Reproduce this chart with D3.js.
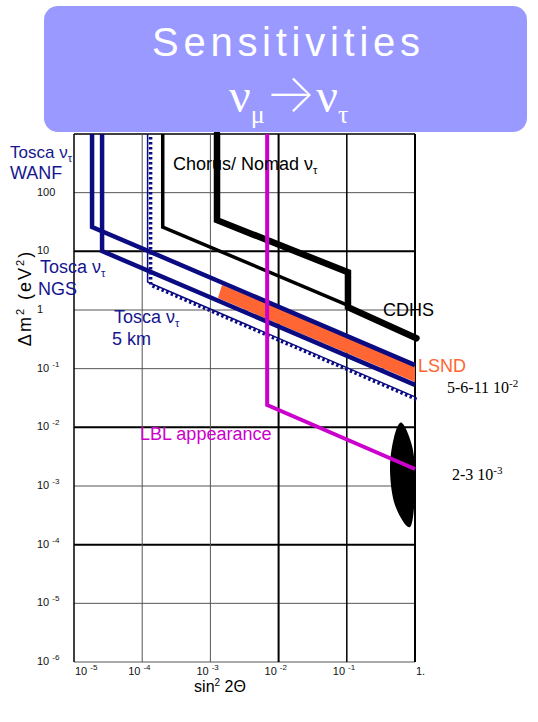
<!DOCTYPE html>
<html>
<head>
<meta charset="utf-8">
<script src="https://cdnjs.cloudflare.com/ajax/libs/d3/7.8.5/d3.min.js"></script>
<style>
  body { margin: 0; background: #fff; }
  svg { display: block; }
</style>
</head>
<body>
<svg id="chart" width="538" height="722"></svg>
<script>
// decades on each axis
const xTicks = [1e-5, 1e-4, 1e-3, 1e-2, 1e-1, 1];
const xTickLabels = [["10", "-5"], ["10", "-4"], ["10", "-3"], ["10", "-2"], ["10", "-1"], ["1.", ""]];
const yTicks = [1e-6, 1e-5, 1e-4, 1e-3, 1e-2, 1e-1, 1, 10, 100, 1000];
const yTickLabels = [["10", "-6"], ["10", "-5"], ["10", "-4"], ["10", "-3"], ["10", "-2"], ["10", "-1"], ["1", ""], ["10", ""], ["100", ""], ["", ""]];

// exclusion curves, [sin^2 2theta, dm^2]
const toscaWanf = [[1.84e-5, 1000], [1.84e-5, 26], [1, 0.115]];
const toscaNgs = [[2.58e-5, 1000], [2.58e-5, 10.1], [1, 0.053]];
const tosca5km = [[1.2e-4, 1000], [1.2e-4, 3.0], [1, 0.033]];
const chorusNomad = [[2.0e-4, 1000], [2.0e-4, 26], [0.104, 1.2]];
const cdhs = [[1.25e-3, 1000], [1.25e-3, 34], [0.104, 4.4], [0.104, 1.12], [1.05, 0.33]];
const lblAppearance = [[6.8e-3, 1000], [6.8e-3, 0.024], [1, 1.95e-3]];
const lsnd = [[1.48e-3, 2.67], [1, 0.125], [1, 0.059], [1.29e-3, 1.6]];
const atmBlob = [[0.644, 0.0119], [0.935, 4.1e-3], [1.0, 8.5e-4], [0.845, 2.0e-4],
                 [0.51, 4.7e-4], [0.43, 1.9e-3], [0.49, 6.6e-3]];

const svg = d3.select("#chart");
const x = d3.scaleLog().domain([1e-5, 1]).range([74, 415]);
const y = d3.scaleLog().domain([1e-6, 1e3]).range([662, 134]);
const line = d3.line().x(d => x(d[0])).y(d => y(d[1]));

const NAVY = "#0b0b82", NAVY_TXT = "#16168f", MAGENTA = "#cc00cc", ORANGE = "#ff6633";

// grid
const heavyY = new Set([10, 1e-2, 1e-4]);
svg.append("g").selectAll("line")
  .data(yTicks)
  .enter().append("line")
  .attr("x1", x(1e-5)).attr("x2", x(1))
  .attr("y1", d => y(d)).attr("y2", d => y(d))
  .attr("stroke", d => heavyY.has(d) || d === 1000 ? "#000" : "#555")
  .attr("stroke-width", d => heavyY.has(d) ? 2 : (d === 1000 ? 1.5 : 1));

const heavyX = { 1e-2: 2, 1e-1: 1.5, 1: 2, 1e-5: 1.5 };
svg.append("g").selectAll("line")
  .data(xTicks)
  .enter().append("line")
  .attr("x1", d => x(d)).attr("x2", d => x(d))
  .attr("y1", y(1e3)).attr("y2", y(1e-6))
  .attr("stroke", d => heavyX[d] ? "#000" : "#555")
  .attr("stroke-width", d => heavyX[d] || 1);

// tick labels
const tickFont = "'Liberation Sans', Arial, sans-serif";
const yl = svg.append("g").selectAll("text")
  .data(yTicks.map((d, i) => [d, yTickLabels[i]]))
  .enter().append("text")
  .attr("x", 37)
  .attr("y", d => y(d[0]) + 3)
  .attr("font-family", tickFont)
  .attr("font-size", 11)
  .attr("fill", "#111");
yl.append("tspan").text(d => d[1][0]);
yl.append("tspan").attr("dx", 3).attr("dy", -5).attr("font-size", 8).text(d => d[1][1]);

const xl = svg.append("g").selectAll("text")
  .data(xTicks.map((d, i) => [d, xTickLabels[i]]))
  .enter().append("text")
  .attr("x", (d, i) => i === 0 || i === xTicks.length - 1 ? x(d[0]) + 1 : x(d[0]) - 14)
  .attr("y", 675)
  .attr("font-family", tickFont)
  .attr("font-size", 11)
  .attr("fill", "#111");
xl.append("tspan").text(d => d[1][0]);
xl.append("tspan").attr("dx", 3).attr("dy", -5).attr("font-size", 8).text(d => d[1][1]);

// axis titles
const xt = svg.append("text")
  .attr("x", 220).attr("y", 692)
  .attr("text-anchor", "middle")
  .attr("font-family", tickFont).attr("font-size", 16);
xt.append("tspan").text("sin");
xt.append("tspan").attr("dy", -6).attr("font-size", 10).text("2");
xt.append("tspan").attr("dy", 6).text(" 2Θ");

const yt = svg.append("text")
  .attr("transform", "translate(31,298) rotate(-90)")
  .attr("text-anchor", "middle")
  .attr("font-family", tickFont).attr("font-size", 18)
  .attr("letter-spacing", 2);
yt.append("tspan").text("Δm");
yt.append("tspan").attr("dy", -7).attr("font-size", 11).text("2");
yt.append("tspan").attr("dy", 7).text("  (eV");
yt.append("tspan").attr("dy", -7).attr("font-size", 11).text("2");
yt.append("tspan").attr("dy", 7).text(")");

// LSND region and atmospheric blob
svg.append("path")
  .attr("d", line(lsnd) + "Z")
  .attr("fill", ORANGE);

svg.append("path")
  .attr("d", d3.line().x(d => x(d[0])).y(d => y(d[1])).curve(d3.curveCardinalClosed)(atmBlob))
  .attr("fill", "#000");

// curves
function drawCurve(data, color, width) {
  return svg.append("path")
    .attr("d", line(data))
    .attr("fill", "none")
    .attr("stroke", color)
    .attr("stroke-width", width)
    .attr("stroke-linejoin", "miter");
}
drawCurve(chorusNomad, "#000", 3.5);
drawCurve(cdhs, "#000", 6.5).attr("stroke-linecap", "round");
drawCurve(toscaWanf, NAVY, 4.5);
drawCurve(toscaNgs, NAVY, 4.5);
drawCurve(tosca5km, NAVY, 1.5);
drawCurve(tosca5km, NAVY, 3.5)
  .attr("stroke-dasharray", "2.5,2.5")
  .attr("transform", "translate(3,3)");
drawCurve(lblAppearance, MAGENTA, 4);

// annotations
const labFont = "'Liberation Sans', Arial, sans-serif";
function label(px, py, txt, color, sub, size) {
  const t = svg.append("text")
    .attr("x", px).attr("y", py)
    .attr("font-family", labFont).attr("font-size", size || 18)
    .attr("fill", color);
  t.append("tspan").text(txt);
  if (sub) t.append("tspan").attr("dy", 4).attr("font-size", 11).text(sub);
  return t;
}
label(10, 158, "Tosca ν", NAVY_TXT, "τ", 17);
label(10, 179, "WANF", NAVY_TXT);
label(40, 273, "Tosca ν", NAVY_TXT, "τ");
label(38, 295, "NGS", NAVY_TXT);
label(114, 323, "Tosca ν", NAVY_TXT, "τ");
label(112, 345, "5  km", NAVY_TXT);
label(173, 170, "Chorus/ Nomad ν", "#000", "τ");
label(383, 316, "CDHS", "#000");
label(418, 372, "LSND", ORANGE);
label(140, 440, "LBL appearance", MAGENTA);

function serifNote(px, py, base, exp) {
  const t = svg.append("text")
    .attr("x", px).attr("y", py)
    .attr("font-family", "'Liberation Serif', 'Times New Roman', serif")
    .attr("font-size", 16).attr("fill", "#000");
  t.append("tspan").text(base);
  t.append("tspan").attr("dy", -6).attr("font-size", 11).text(exp);
}
serifNote(447, 393, "5-6-11 10", "-2");
serifNote(452, 480, "2-3 10", "-3");

// title box
svg.append("rect")
  .attr("x", 44).attr("y", 6)
  .attr("width", 483).attr("height", 126)
  .attr("rx", 14)
  .attr("fill", "#9999ff");
svg.append("text")
  .attr("x", 286).attr("y", 56)
  .attr("text-anchor", "middle")
  .attr("font-family", labFont)
  .attr("font-size", 40)
  .attr("textLength", 268).attr("lengthAdjust", "spacing")
  .attr("fill", "#fff")
  .text("Sensitivities");
const sub = svg.append("text")
  .attr("x", 229).attr("y", 112)
  .attr("font-family", "'Liberation Serif', 'Times New Roman', serif")
  .attr("font-size", 48)
  .attr("fill", "#fff");
sub.append("tspan").text("ν");
sub.append("tspan").attr("dy", 11).attr("font-size", 26).text("μ");
sub.append("tspan").attr("dy", -11)
  .attr("font-family", "Inter, 'DejaVu Sans', sans-serif")
  .attr("font-weight", 200).attr("font-size", 54).text("→");
sub.append("tspan").text("ν");
sub.append("tspan").attr("dy", 11).attr("font-size", 26).text("τ");
</script>
</body>
</html>
